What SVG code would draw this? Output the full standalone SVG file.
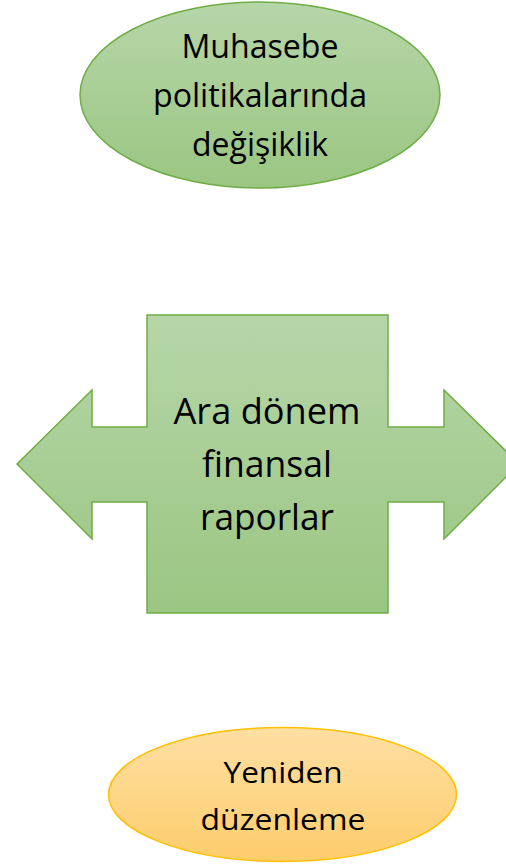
<svg xmlns="http://www.w3.org/2000/svg" width="506" height="865" viewBox="0 0 506 865">
<defs>
<linearGradient id="gG" x1="0" y1="0" x2="0" y2="1"><stop offset="0" stop-color="#b6d6a8"/><stop offset="1" stop-color="#9bc682"/></linearGradient>
<linearGradient id="gO" x1="0" y1="0" x2="0" y2="1"><stop offset="0" stop-color="#fedfa3"/><stop offset="1" stop-color="#fdcd6c"/></linearGradient>
<style>
.t{font-family:"Open Sans","Liberation Sans",sans-serif;fill:#000;text-anchor:middle}
.g{fill:url(#gG);stroke:#70ad47;stroke-width:1.5}
.o{fill:url(#gO);stroke:#ffc000;stroke-width:1.5}
</style>
</defs>
<g id="node-muhasebe">
<ellipse class="g" cx="260" cy="95" rx="180" ry="93"/>
<text class="t" font-size="32" x="260" y="58" textLength="157" lengthAdjust="spacingAndGlyphs">Muhasebe</text>
<text class="t" font-size="32" x="260" y="107" textLength="214" lengthAdjust="spacingAndGlyphs">politikalarında</text>
<text class="t" font-size="32" x="260" y="156" textLength="136" lengthAdjust="spacingAndGlyphs">değişiklik</text>
</g>
<g id="node-ara">
<path class="g" d="M147,315 H388 V427 H444 V390 L519,464 L444,539 V502 H388 V613 H147 V502 H92 V539 L17,464 L92,390 V427 H147 Z"/>
<text class="t" font-size="36" x="267" y="424" textLength="187" lengthAdjust="spacingAndGlyphs">Ara dönem</text>
<text class="t" font-size="36" x="267" y="477" textLength="130" lengthAdjust="spacingAndGlyphs">finansal</text>
<text class="t" font-size="36" x="267" y="530" textLength="134" lengthAdjust="spacingAndGlyphs">raporlar</text>
</g>
<g id="node-yeniden">
<ellipse class="o" cx="282.5" cy="794.5" rx="174" ry="67"/>
<text class="t" font-size="30" x="283" y="783" textLength="119" lengthAdjust="spacingAndGlyphs">Yeniden</text>
<text class="t" font-size="30" x="283" y="830" textLength="165" lengthAdjust="spacingAndGlyphs">düzenleme</text>
</g>
<g id="connectors"/>
</svg>
